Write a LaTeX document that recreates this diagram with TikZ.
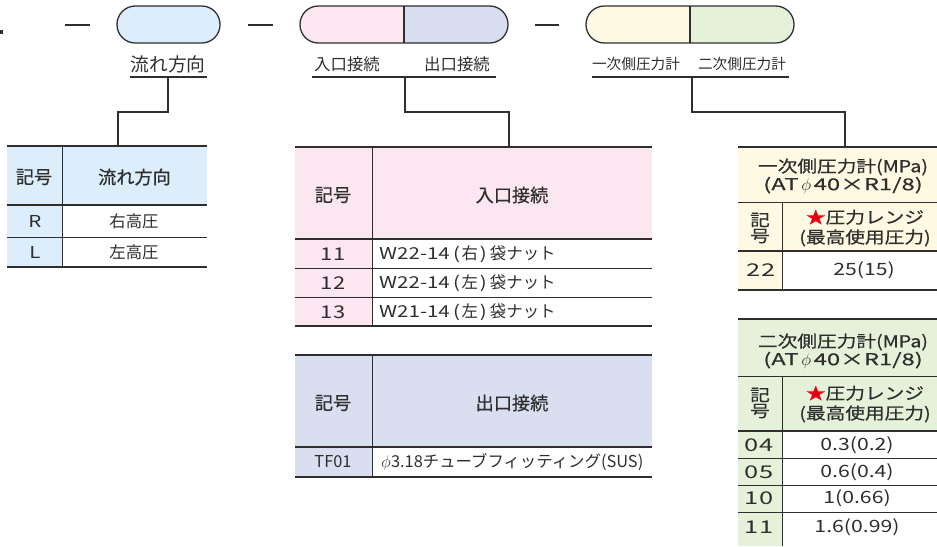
\documentclass[tikz,border=0pt]{standalone}
\usepackage{fontspec}
\setmainfont{Noto Sans CJK JP}
\newfontfamily\widefont[FakeStretch=1.2]{Noto Sans CJK JP}
\newfontfamily\widehdfont[FakeStretch=1.2,FakeBold=0.5]{Noto Sans CJK JP}
\newfontfamily\widelatfont[FakeStretch=1.45,FakeBold=0.5]{Noto Sans CJK JP}
\newfontfamily\hdfont[FakeBold=0.6]{Noto Sans CJK JP}
\newfontfamily\latfont[FakeStretch=1.25]{Noto Sans CJK JP}
\newfontfamily\numfont[FakeStretch=1.45]{Noto Sans CJK JP}
\newcommand\lat[1]{{\latfont #1}}
\usetikzlibrary{positioning}
\definecolor{ink}{HTML}{2E2E2E}
\definecolor{flowblue}{HTML}{DCEEFB}
\definecolor{inpink}{HTML}{FCE6F0}
\definecolor{outblue}{HTML}{D9DEF1}
\definecolor{onecream}{HTML}{FDF9E2}
\definecolor{twogreen}{HTML}{E6F1DA}
\definecolor{starred}{HTML}{E60012}
\tikzset{
  capsule/.style={draw=ink, line width=1.1pt, rounded corners=0.55cm,
    minimum height=1.11cm, inner sep=0pt},
  lbl/.style={text=ink, inner sep=0pt, font=\fontsize{14}{16}\selectfont},
  hdr/.style={text=ink, inner sep=0pt, font=\hdfont\fontsize{15.5}{17}\selectfont},
  cell/.style={text=ink, inner sep=0pt, font=\fontsize{14}{16}\selectfont},
  gauge/.style={text=ink, inner sep=0pt, align=center, font=\widehdfont\fontsize{14}{15.3}\selectfont},
  gaugeno/.style={text=ink, inner sep=0pt, font=\numfont\fontsize{15}{16}\selectfont},
  gaugeval/.style={text=ink, inner sep=0pt, font=\latfont\fontsize{14.5}{16}\selectfont},
  bold rule/.style={ink, line width=2pt},
  thin rule/.style={ink, line width=0.8pt},
  link/.style={ink, line width=0.9pt},
}
\begin{document}
\begin{tikzpicture}[x=0.03cm, y=-0.03cm]
  \useasboundingbox (0,0) rectangle (937,546);
  \clip (0,0) rectangle (937,546);

  % model code line
  \fill[ink] (0,30) rectangle (3,34);
  \draw[bold rule] (65,25) -- (90,25);
  \draw[bold rule] (248,25) -- (273,25);
  \draw[bold rule] (535,25) -- (559,25);

  \node[capsule, fill=flowblue, minimum width=3.09cm] (flowcap) at (168.5,24.5) {};
  \coordinate (portcap) at (404,24.5);
  \coordinate (gaugecap) at (690,24.5);
  \foreach \c/\l/\r in {portcap/inpink/outblue, gaugecap/onecream/twogreen}{
    \begin{scope}
      \clip[rounded corners=0.55cm] (\c) ++(-104,-18.5) rectangle ++(208,37);
      \fill[\l] (\c) ++(-104,-18.5) rectangle ++(104,37);
      \fill[\r] (\c) ++(0,-18.5) rectangle ++(104,37);
    \end{scope}
    \draw[ink, line width=1.1pt, rounded corners=0.55cm] (\c) ++(-104,-18.5) rectangle ++(208,37);
    \draw[ink, line width=0.9pt] (\c) ++(0,-18.5) -- ++(0,37);
  }

  \node[lbl, font=\fontsize{16}{18}\selectfont] (flowlbl) at (168,64) {流れ方向};
  \node[lbl] (inlbl) at (347,64) {入口接続};
  \node[lbl] (outlbl) at (457,64) {出口接続};
  \node[lbl, font=\fontsize{12.5}{14}\selectfont] (onelbl) at (636,64) {一次側圧力計};
  \node[lbl, font=\fontsize{12.5}{14}\selectfont] (twolbl) at (742,64) {二次側圧力計};
  \draw[link, line width=1.2pt] (130,77) -- (207,77);
  \draw[link, line width=1.2pt] (312,77) -- (496,77);
  \draw[link, line width=1.2pt] (592,77) -- (789,77);

  % leaders
  \coordinate (flowtop) at (168,77);
  \coordinate (flowbend) at (118,112);
  \coordinate (flowtab) at (118,146);
  \coordinate (porttop) at (405,77);
  \coordinate (portbend) at (509,112);
  \coordinate (porttab) at (509,147);
  \coordinate (gaugetop) at (692,77);
  \coordinate (gaugebend) at (845,112);
  \coordinate (gaugetab) at (845,147);
  \draw[link] (flowtop) |- (flowbend) -- (flowtab);
  \draw[link] (porttop) |- (portbend) -- (porttab);
  \draw[link] (gaugetop) |- (gaugebend) -- (gaugetab);

  % flow direction table
  \fill[flowblue] (7,146) rectangle (207,205);
  \fill[flowblue] (7,205) rectangle (62,267);
  \draw[thin rule] (62,146) -- (62,267);
  \draw[bold rule] (7,146) -- (207,146);
  \draw[bold rule] (7,205) -- (207,205);
  \draw[thin rule] (7,237) -- (207,237);
  \draw[bold rule] (7,267) -- (207,267);
  \node[hdr] (flowno) at (34,177) {記号};
  \node[hdr] (flowhd) at (134.5,177) {流れ方向};
  \node[cell] (flowR) at (35,221) {\lat{R}};
  \node[cell] (flowRt) at (134,221) {右高圧};
  \node[cell] (flowL) at (35,252) {\lat{L}};
  \node[cell] (flowLt) at (134,252) {左高圧};

  % inlet table
  \fill[inpink] (295,147) rectangle (652,239);
  \fill[inpink] (295,239) rectangle (372,326);
  \draw[thin rule] (372,147) -- (372,326);
  \draw[bold rule] (295,147) -- (652,147);
  \draw[bold rule] (295,239) -- (652,239);
  \draw[thin rule] (295,268) -- (652,268);
  \draw[thin rule] (295,297) -- (652,297);
  \draw[bold rule] (295,326) -- (652,326);
  \node[hdr] (inno) at (333,195) {記号};
  \node[hdr] (inhd) at (512,195) {入口接続};
  \foreach \y/\no/\pre/\side in {254/11/W22-14/右, 283/12/W22-14/左, 312/13/W21-14/左}{
    \node[cell, font=\latfont\fontsize{15}{16}\selectfont] (in\no) at (333,\y) {\no};
    \node[cell, anchor=west] (in\no t) at (379,\y)
      {\lat{\pre\hspace{0.2em}(}\hspace{0.1em}\side\hspace{0.1em}\lat{)\hspace{0.2em}}袋ナット};
  }

  % outlet table
  \fill[outblue] (295,355) rectangle (652,447);
  \fill[outblue] (295,447) rectangle (372,477);
  \draw[thin rule] (372,355) -- (372,477);
  \draw[bold rule] (295,355) -- (652,355);
  \draw[bold rule] (295,447) -- (652,447);
  \draw[bold rule] (295,477) -- (652,477);
  \node[hdr] (outno) at (333,403) {記号};
  \node[hdr] (outhd) at (512,403) {出口接続};
  \node[cell] (outTF) at (333,462) {TF01};
  \node[cell, anchor=west] (outTFt) at (381,462) {$\phi$3.18チューブフィッティング(SUS)};

  % primary gauge table
  \fill[onecream] (738,147) rectangle (946,251);
  \fill[onecream] (738,251) rectangle (782,290);
  \draw[thin rule] (782,202) -- (782,290);
  \draw[bold rule] (738,147) -- (946,147);
  \draw[thin rule] (738,202) -- (946,202);
  \draw[bold rule] (738,251) -- (946,251);
  \draw[bold rule] (738,290) -- (946,290);
  \node[gauge] (onehd) at (843,176) {一次側圧力計(MPa)\\{\widelatfont (AT\,$\phi$\,40×R1/8)}};
  \node[gauge, font=\widehdfont\fontsize{14}{13.6}\selectfont] (oneno) at (760,228) {記\\号};
  \node[gauge, font=\widehdfont\fontsize{14}{17}\selectfont] (onerng) at (865,228) {\textcolor{starred}{★}圧力レンジ\\(最高使用圧力)};
  \node[gaugeno] (one22) at (761,270) {22};
  \node[gaugeval] (one22t) at (864,270) {25(15)};

  % secondary gauge table
  \fill[twogreen] (738,319) rectangle (946,431);
  \fill[twogreen] (738,431) rectangle (782,546);
  \draw[thin rule] (782,376) -- (782,546);
  \draw[bold rule] (738,319) -- (946,319);
  \draw[thin rule] (738,376) -- (946,376);
  \draw[bold rule] (738,431) -- (946,431);
  \draw[thin rule] (738,458) -- (946,458);
  \draw[thin rule] (738,485) -- (946,485);
  \draw[thin rule] (738,512) -- (946,512);
  \node[gauge] (twohd) at (843,351) {二次側圧力計(MPa)\\{\widelatfont (AT\,$\phi$\,40×R1/8)}};
  \node[gauge, font=\widehdfont\fontsize{14}{13.6}\selectfont] (twono) at (760,403) {記\\号};
  \node[gauge, font=\widehdfont\fontsize{14}{17}\selectfont] (tworng) at (865,404) {\textcolor{starred}{★}圧力レンジ\\(最高使用圧力)};
  \foreach \y/\no/\txt in {445/04/0.3(0.2), 472/05/0.6(0.4), 498/10/1(0.66), 527/11/1.6(0.99)}{
    \node[gaugeno] (two\no) at (759,\y) {\no};
    \node[gaugeval] (two\no t) at (857,\y) {\txt};
  }
\end{tikzpicture}
\end{document}
